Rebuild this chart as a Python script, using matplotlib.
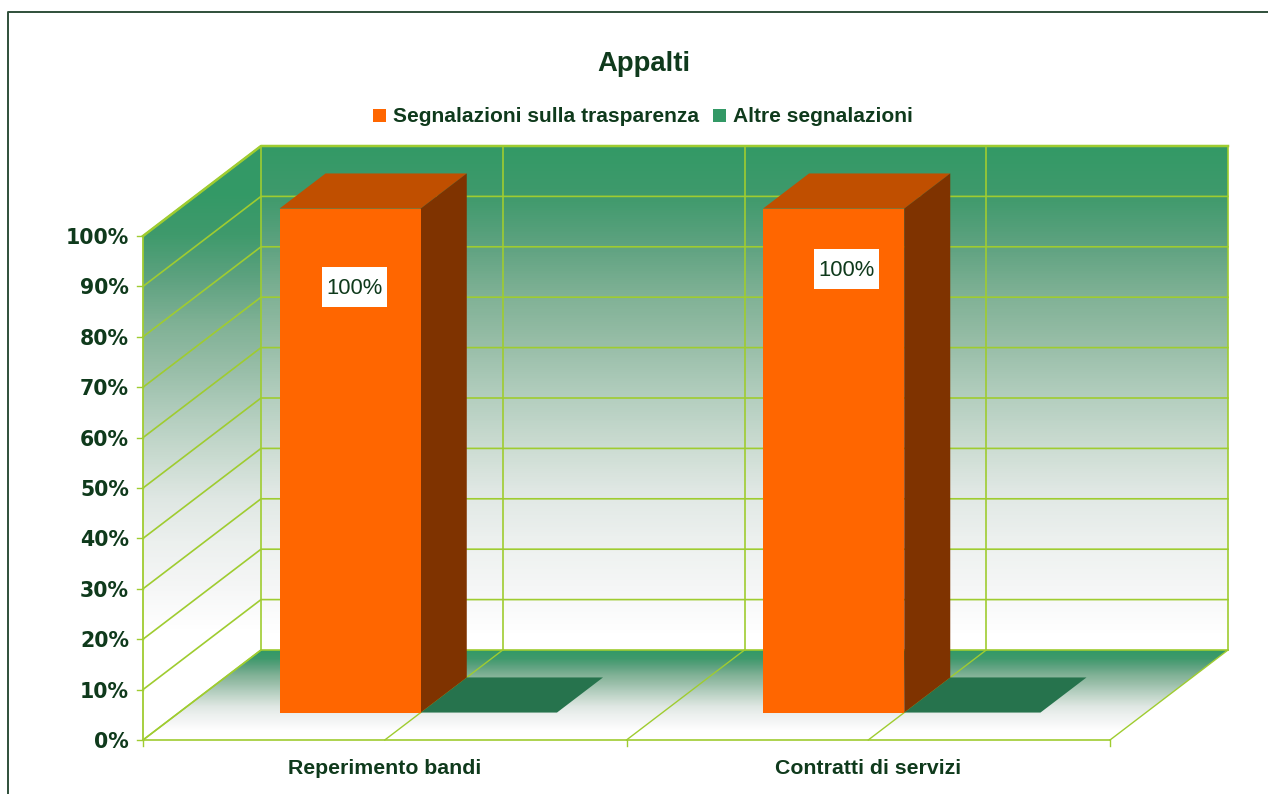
import matplotlib
matplotlib.use('Agg')
import matplotlib.pyplot as plt
from matplotlib.colors import LinearSegmentedColormap
from matplotlib.patches import Polygon, Rectangle
import numpy as np

# dati
categories = ['Reperimento bandi', 'Contratti di servizi']
trasparenza = [100, 100]
altre = [0, 0]
y_ticks = [0, 10, 20, 30, 40, 50, 60, 70, 80, 90, 100]
series_names = ['Segnalazioni sulla trasparenza', 'Altre segnalazioni']
label_pct = [84.4, 88.0]
label_cat = [0.362, 1.379]

# geometria della finta prospettiva 3D, in pixel
X0, Y0 = 143, 740
CAT_W = 483.5
H = 504
DX, DY = 118, -90
BAR_D0, BAR_D1 = 0.305, 0.695
BAR_W = 0.292

ORANGE, ORANGE_TOP, ORANGE_SIDE = '#ff6600', '#c04f00', '#7f3300'
GREEN, GREEN_FLOOR = '#339966', '#26734d'
GRID = '#9fcc30'
TEXT = '#0f3a1c'
FONT = 'Liberation Sans'


def pr(cat, val=0, depth=0):
    # categoria / percentuale / profondita -> pixel
    return (X0 + cat * CAT_W + depth * DX, Y0 - val / 100 * H + depth * DY)


def face(points, **kw):
    ax.add_patch(Polygon([pr(*p) for p in points], closed=True, **kw))


def gradient(tfunc, box, outline, zorder=1):
    x0, x1, y0, y1 = box
    xx, yy = np.meshgrid(np.arange(x0, x1 + 1), np.arange(y0, y1 + 1))
    im = ax.imshow(tfunc(xx, yy), extent=(x0, x1 + 1, y1 + 1, y0), cmap=cmap,
                   vmin=0, vmax=1, zorder=zorder, aspect='auto', interpolation='bilinear')
    clip = Polygon(outline, closed=True, transform=ax.transData, fc='none', ec='none')
    ax.add_patch(clip)
    im.set_clip_path(clip)


fig = plt.figure(figsize=(12.68, 7.94), dpi=100, facecolor='white')
ax = fig.add_axes([0, 0, 1, 1])
cmap = LinearSegmentedColormap.from_list('wall', ['#339966', '#3f9a6c', '#5ea280', '#7fb195',
                                                  '#97bda7', '#b0ccbc', '#c8dacf', '#dfe7e3',
                                                  '#ecf0ee', '#f5f6f6', '#ffffff'])
n = len(categories)

# pareti e pavimento sfumati
bx0, by_top = pr(0, 100, 1)
by_bot = pr(0, 0, 1)[1]
bx1 = pr(n, 0, 1)[0]
gradient(lambda x, y: (y - by_top) / (H * 0.97),
         (int(bx0), int(bx1), int(by_top), int(by_bot)),
         [pr(0, 100, 1), pr(n, 100, 1), pr(n, 0, 1), pr(0, 0, 1)])
gradient(lambda x, y: (y - 190) / 440,
         (X0, int(bx0), int(by_top), Y0),
         [pr(0, 100, 0), pr(0, 100, 1), pr(0, 0, 1), pr(0, 0, 0)])
gradient(lambda x, y: (y - by_bot) / 80,
         (X0, int(bx1), int(by_bot), Y0),
         [pr(0, 0, 0), pr(0, 0, 1), pr(n, 0, 1), pr(n, 0, 0)])

# griglia
for v in y_ticks:
    pts = [pr(0, v, 0), pr(0, v, 1), pr(n, v, 1)]
    ax.plot(*zip(*pts), color=GRID, lw=1.2, zorder=2)
    tx, ty = pr(0, v, 0)
    ax.plot([tx - 6, tx], [ty, ty], color=GRID, lw=1.0, zorder=2)
    ax.text(tx - 14, ty + 2, f'{v}%', ha='right', va='center', fontsize=14.8,
            fontweight='bold', family='DejaVu Sans', color=TEXT, zorder=5)
ax.plot(*zip(pr(0, 100, 0), pr(0, 100, 1), pr(n, 100, 1)), color=GRID, lw=1.8, zorder=2)
ax.plot(*zip(pr(0, 0, 0), pr(0, 100, 0)), color=GRID, lw=1.3, zorder=2)

for c in np.arange(0, n + 0.5, 0.5):
    ax.plot(*zip(pr(c, 0, 0), pr(c, 0, 1)), color=GRID, lw=1.0, zorder=2)
    ax.plot(*zip(pr(c, 0, 1), pr(c, 100, 1)), color=GRID, lw=1.2, zorder=2)
    tx, ty = pr(c, 0, 0)
    if c == int(c):
        ax.plot([tx, tx], [ty, ty + 6], color=GRID, lw=1.0, zorder=2)
ax.plot(*zip(pr(0, 0, 0), pr(n, 0, 0)), color=GRID, lw=1.2, zorder=2)

# barre
for i, (v, w) in enumerate(zip(trasparenza, altre)):
    mid = i + 0.5
    l, r = mid - BAR_W, mid
    r2 = mid + BAR_W * 0.965
    face([(r, w, BAR_D0), (r2, w, BAR_D0), (r2, w, BAR_D1), (r, w, BAR_D1)],
         fc=GREEN_FLOOR, ec='none', zorder=3)
    face([(l, v, BAR_D0), (l, v, BAR_D1), (r, v, BAR_D1), (r, v, BAR_D0)],
         fc=ORANGE_TOP, ec='none', zorder=4)
    face([(r, 0, BAR_D0), (r, v, BAR_D0), (r, v, BAR_D1), (r, 0, BAR_D1)],
         fc=ORANGE_SIDE, ec='none', zorder=4)
    face([(l, 0, BAR_D0), (l, v, BAR_D0), (r, v, BAR_D0), (r, 0, BAR_D0)],
         fc=ORANGE, ec='none', zorder=4)
    lx, ly = pr(label_cat[i], label_pct[i], BAR_D0)
    ax.add_patch(Rectangle((lx - 32, ly - 20), 65, 40, fc='white', ec='none', zorder=5))
    ax.text(lx + 0.5, ly + 1, f'{v}%', ha='center', va='center', fontsize=15.8, family=FONT,
            color=TEXT, zorder=6)
    cx, cy = pr(mid, 0, 0)
    ax.text(cx, cy + 29, categories[i], ha='center', va='center', fontsize=15.3,
            fontweight='bold', family=FONT, color=TEXT, zorder=5)

# titolo e legenda
ax.text(644, 64, 'Appalti', ha='center', va='center', fontsize=19.8, fontweight='bold',
        family=FONT, color=TEXT)
leg_x = [373, 713]
leg_c = [ORANGE, GREEN]
for name, x, c in zip(series_names, leg_x, leg_c):
    ax.add_patch(Rectangle((x, 109), 13, 13, fc=c, ec='none'))
    ax.text(x + 20, 117, name, ha='left', va='center', fontsize=15.15, fontweight='bold',
            family=FONT, color=TEXT)

# cornice
ax.plot([8, 8, 1268], [794, 12, 12], color='#2f4f3a', lw=1.4, zorder=6)

ax.set_xlim(0, 1268)
ax.set_ylim(794, 0)
ax.axis('off')
fig.savefig('out.png', dpi=100, facecolor='white')
